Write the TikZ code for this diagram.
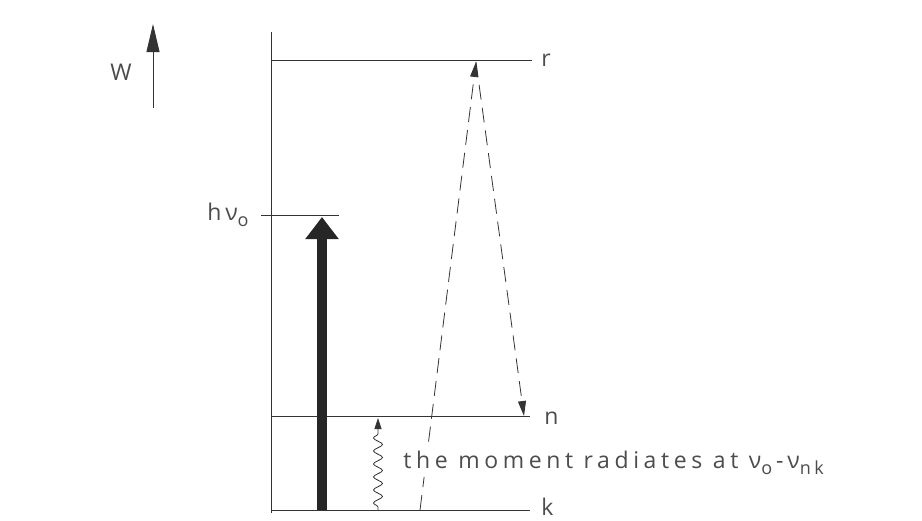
\documentclass[tikz,border=0pt]{standalone}
\usepackage{fontspec}
\setmainfont{Open Sans}
\usetikzlibrary{calc}
\usetikzlibrary{arrows.meta}
\usetikzlibrary{decorations.pathmorphing}
\newcommand\lowsub[1]{\raisebox{-0.45ex}{\fontsize{18}{20}\selectfont #1}}

\begin{document}
\begin{tikzpicture}[x=1pt,y=-1pt, line width=0.8pt,
    ink/.style={draw=black!80},
    lbl/.style={text=black!70, inner sep=0pt, font=\fontsize{23}{26}\selectfont\addfontfeatures{LetterSpace=20}},
    dashtip/.style={-{Triangle[length=15pt,width=8pt]}, dash pattern=on 15pt off 8pt}]
    \useasboundingbox (0,0) rectangle (922,520);
    % energy axis and levels
    \coordinate (axtop) at (271,32);
    \coordinate (axbot) at (271,513);
    \draw[ink] (axtop) -- (axbot);
    \coordinate (r0) at (271,60);  \coordinate (r1) at (532,60);
    \coordinate (n0) at (271,416); \coordinate (n1) at (530,416);
    \coordinate (k0) at (271,510); \coordinate (k1) at (530,510);
    \coordinate (h0) at (261,215); \coordinate (h1) at (339,215);
    \draw[ink] (r0) -- (r1) node[lbl, anchor=west, xshift=9pt] (r) {r};
    \draw[ink] (n0) -- (n1) node[lbl, anchor=west, xshift=14pt, yshift=-2pt] (n) {n};
    \draw[ink] (k0) -- (k1) node[lbl, anchor=west, xshift=11pt, yshift=3pt] (k) {k};
    \draw[ink] (h0) -- (h1);
    \node[lbl, anchor=east] (hnu) at ([xshift=-12pt]h0) {h\,ν\lowsub{o}};
    % W arrow
    \coordinate (w0) at (153,108); \coordinate (w1) at (153,24);
    \draw[ink, line width=1pt, -{Triangle[length=28pt,width=13pt]}] (w0) -- (w1);
    \node[lbl] (w) at (121,72) {W};
    % exciting photon
    \coordinate (p0) at (322,510); \coordinate (p1) at (322,217);
    \draw[draw=black!85, line width=10pt, -{Triangle[length=22pt,width=32pt]}] (p0) -- (p1);
    % virtual transitions
    \coordinate (v0) at (420,510); \coordinate (vt) at (476,62); \coordinate (v1) at (524,416);
    \draw[ink, dashtip] (v0) -- (vt);
    \draw[ink, dashtip] (vt) -- (v1);
    % emission
    \coordinate (e0) at (378,510); \coordinate (e1) at (378,418);
    \draw[ink, -{Triangle[length=11pt,width=7pt]},
        decorate, decoration={snake, amplitude=4.5pt, segment length=13pt, pre length=3pt, post length=12pt}] (e0) -- (e1);
    \node[lbl, anchor=west, fill=white, inner ysep=2pt] (txt) at (403,463) {the moment radiates at ν\lowsub{o}\,-\,ν\lowsub{nk}};
\end{tikzpicture}
\end{document}
